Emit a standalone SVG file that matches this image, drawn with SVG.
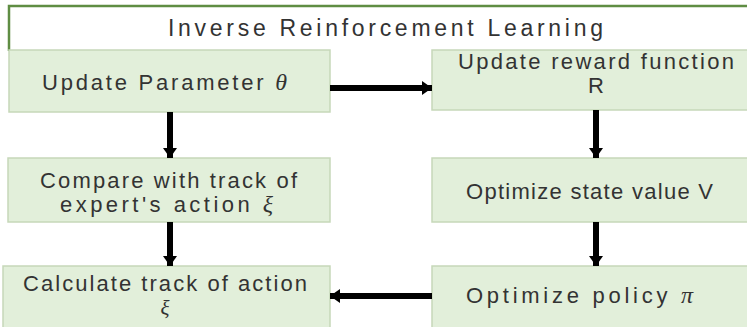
<svg xmlns="http://www.w3.org/2000/svg" width="747" height="327" viewBox="0 0 747 327">
  <style>
    .box { fill: #e2efda; stroke: #c6d8b9; stroke-width: 1.5; }
    .lbl { font-family: "Liberation Sans", "Noto Sans", sans-serif; font-size: 22px; fill: #333333; }
    .title { font-family: "Liberation Sans", "Noto Sans", sans-serif; font-size: 23px; fill: #333333; }
    .sym { font-style: italic; font-family: "Liberation Serif", "DejaVu Serif", serif; font-size: 24px; }
    .sym-line { font-size: 21px; }
    .conn { stroke: #000000; stroke-width: 6; fill: none; marker-end: url(#head); }
  </style>
  <defs>
    <marker id="head" markerUnits="userSpaceOnUse" markerWidth="12" markerHeight="14" refX="10" refY="7" orient="auto">
      <path d="M0,0 L10,7 L0,14 Z" fill="#000000"/>
    </marker>
  </defs>

  <rect width="747" height="327" fill="#ffffff"/>

  <!-- title band -->
  <g id="title">
    <rect x="9" y="6" width="745" height="44" fill="#ffffff"/>
    <path d="M9,51 V6 H747" fill="none" stroke="#5f8d43" stroke-width="2.5"/>
    <text class="title" x="168" y="36" textLength="435" lengthAdjust="spacing">Inverse Reinforcement Learning</text>
  </g>

  <g id="update-parameter">
    <rect class="box" x="9" y="50" width="321" height="62"/>
    <text class="lbl" x="42" y="90" textLength="245" lengthAdjust="spacing">Update Parameter <tspan class="sym">θ</tspan></text>
  </g>

  <g id="update-reward">
    <rect class="box" x="432" y="50" width="330" height="60"/>
    <text class="lbl" x="458" y="69" textLength="276" lengthAdjust="spacing">Update reward function</text>
    <text class="lbl" x="596" y="93" text-anchor="middle">R</text>
  </g>

  <g id="compare">
    <rect class="box" x="8" y="158" width="322" height="64"/>
    <text class="lbl" x="40" y="188" textLength="257" lengthAdjust="spacing">Compare with track of</text>
    <text class="lbl" x="60" y="212" textLength="213" lengthAdjust="spacing">expert's action <tspan class="sym">ξ</tspan></text>
  </g>

  <g id="optimize-state">
    <rect class="box" x="432" y="158" width="330" height="64"/>
    <text class="lbl" x="466" y="199" textLength="247" lengthAdjust="spacing">Optimize state value V</text>
  </g>

  <g id="calculate">
    <rect class="box" x="3" y="266" width="327" height="70"/>
    <text class="lbl" x="23" y="291" textLength="284" lengthAdjust="spacing">Calculate track of action</text>
    <text class="lbl sym sym-line" x="165" y="315" text-anchor="middle">ξ</text>
  </g>

  <g id="optimize-policy">
    <rect class="box" x="432" y="266" width="330" height="70"/>
    <text class="lbl" x="466" y="303" textLength="227" lengthAdjust="spacing">Optimize policy  <tspan class="sym">π</tspan></text>
  </g>

  <g id="connectors">
    <path class="conn" d="M330,88 H432"/>
    <path class="conn" d="M170,112 V158"/>
    <path class="conn" d="M170,222 V266"/>
    <path class="conn" d="M596,110 V158"/>
    <path class="conn" d="M596,222 V266"/>
    <path class="conn" d="M432,296 H330"/>
  </g>
</svg>
